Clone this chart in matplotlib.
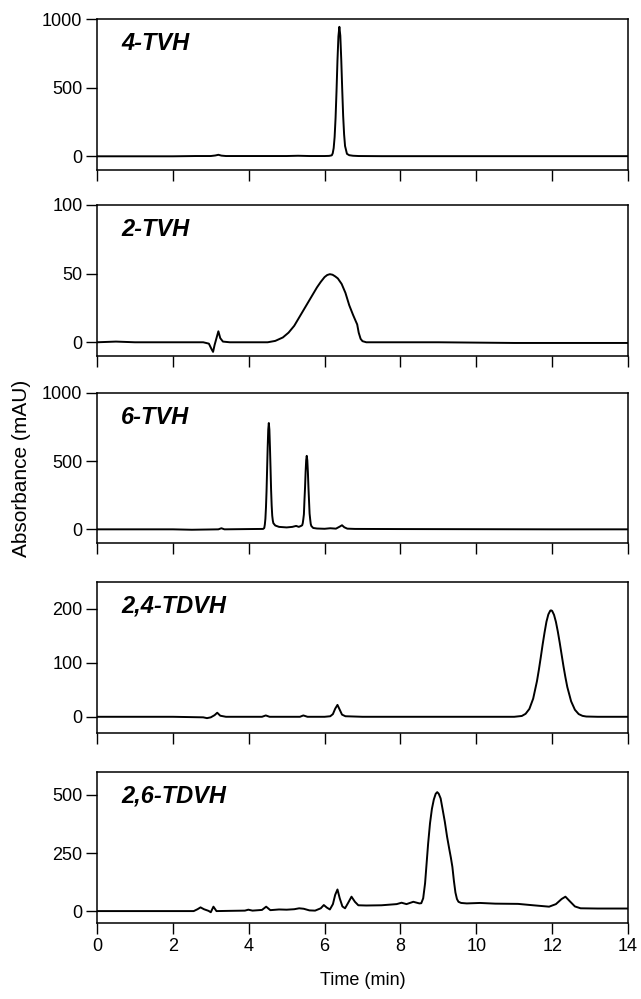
import matplotlib
matplotlib.use("Agg")
import matplotlib.pyplot as plt

plt.rcParams['font.family'] = ['Liberation Sans', 'DejaVu Sans']

# ---------------- data ----------------
names = ["4-TVH", "2-TVH", "6-TVH", "2,4-TDVH", "2,6-TDVH"]

t1 = [0, 1.0, 2.0, 2.6, 3.0, 3.12, 3.2, 3.28, 3.4, 4.0, 5.0, 5.3, 5.6, 6.0, 6.12,
      6.19, 6.215, 6.24, 6.265, 6.29, 6.315, 6.34, 6.365, 6.39, 6.415, 6.44,
      6.465, 6.49, 6.515, 6.54, 6.59, 6.65, 6.75, 6.9, 7.5,
      10.0, 12.0, 14.0]
v1 = [0, 0, 0, 2, 2, 6, 11, 5, 2, 2, 2, 4, 2, 2, 3,
      7, 22, 60, 141, 280, 476, 700, 875, 945, 880, 705,
      490, 295, 160, 75, 18, 8, 4, 2, 1,
      1, 1, 1]

t2 = [0, 0.5, 1.0, 2.0, 2.8, 2.95, 3.02, 3.06, 3.1, 3.15, 3.2, 3.25, 3.32, 3.5,
      4.0, 4.5, 4.7, 4.9, 5.05, 5.2, 5.35, 5.5, 5.65, 5.8, 5.9, 6.0, 6.07,
      6.14, 6.21, 6.28, 6.35, 6.45, 6.55, 6.65, 6.75, 6.82, 6.86, 6.9, 6.95,
      7.0, 7.1, 7.5, 9.0, 11.0, 14.0]
v2 = [0, 0.5, 0, 0, 0, -1, -5, -7, -2, 3, 8, 3, 0.5, 0,
      0, 0, 1, 3.5, 7, 12, 19, 26, 33, 40, 44, 47.5, 49,
      49.6, 49.2, 48, 46.5, 42.5, 36, 27, 20, 15.5, 13, 7, 2.5,
      0.8, 0, 0, 0, -0.5, -0.5]

t3 = [0, 1, 2, 2.5, 3.2, 3.28, 3.36, 4.0, 4.38, 4.41, 4.425, 4.44, 4.455,
      4.47, 4.485, 4.50, 4.515, 4.53, 4.545, 4.56, 4.575, 4.59, 4.605, 4.62,
      4.635, 4.65, 4.7, 4.8, 5.0, 5.15, 5.25, 5.32, 5.38, 5.41, 5.425, 5.44,
      5.455, 5.47, 5.485, 5.50, 5.515, 5.53, 5.545, 5.56, 5.575, 5.59, 5.605,
      5.62, 5.635, 5.65, 5.7, 5.8, 6.0, 6.15, 6.3, 6.4, 6.46, 6.52, 6.6, 6.8,
      8, 10, 12, 14]
v3 = [0, 0, 0, -3, 0, 8, 0, 2, 3, 10, 35, 78, 160,
      280, 440, 600, 730, 778, 730, 600, 450, 290, 175, 100,
      65, 45, 28, 18, 14, 18, 25, 18, 25, 30, 45, 75,
      110, 215, 305, 420, 505, 538, 505, 420, 305, 210, 115,
      75, 40, 25, 10, 6, 4, 8, 5, 20, 30, 15, 5, 3,
      2, 1, 0, 0]

t4 = [0, 1, 2, 2.8, 2.9, 3.0, 3.1, 3.17, 3.25, 3.4, 4.0, 4.35, 4.45, 4.55, 5.0,
      5.35, 5.44, 5.55, 6.0, 6.15, 6.22, 6.28, 6.34, 6.4, 6.46, 6.55, 7.0, 9,
      11.0, 11.2, 11.3, 11.4, 11.5, 11.6, 11.65, 11.7, 11.75, 11.8, 11.85,
      11.9, 11.95, 11.97, 12.0, 12.05, 12.1, 12.15, 12.2, 12.25, 12.3, 12.35,
      12.4, 12.5, 12.6, 12.7, 12.8, 12.9, 13.2, 14]
v4 = [0, 0, 0, -1, -2.5, -1, 3, 7.5, 2, 0, 0, 0, 2.5, 0, 0,
      0, 2.5, 0, 0, 1, 5, 15, 22, 13, 4, 1, 0, 0,
      0, 1.5, 5.5, 14.6, 33.6, 66, 87, 110, 134, 156, 176,
      189.5, 196.4, 197, 196, 188.6, 175.5, 157.6, 137, 115, 93, 73,
      55, 28.7, 13, 5, 1.7, 0.5, 0, 0]

t5 = [0, 1, 2, 2.55, 2.65, 2.73, 2.82, 2.94, 3.0, 3.07, 3.15, 3.5, 3.9, 3.99,
      4.1, 4.35, 4.46, 4.57, 4.8, 5.0, 5.2, 5.33, 5.45, 5.6, 5.75, 5.9, 5.98,
      6.06, 6.14, 6.22, 6.28, 6.34, 6.4, 6.47, 6.54, 6.62, 6.71, 6.8, 6.89,
      7.1, 7.5, 7.9, 8.03, 8.16, 8.34, 8.5, 8.55, 8.6, 8.65, 8.69, 8.73, 8.78,
      8.83, 8.88, 8.93, 8.97, 9.01, 9.06, 9.11, 9.17, 9.23, 9.29, 9.33, 9.37,
      9.41, 9.45, 9.49, 9.53, 9.6, 9.75, 10.1, 10.5, 11.1, 11.5, 11.92, 12.1,
      12.25, 12.35, 12.45, 12.6, 12.75, 13.2, 14]
v5 = [0, 0, 0, 0, 8, 16, 8, 1, -5, 19, 0, 1, 2, 6,
      2, 5, 19, 4, 7, 6, 8, 12, 10, 3, 2, 12, 26,
      15, 7, 30, 70, 93, 55, 20, 12, 35, 62, 40, 25,
      24, 25, 30, 36, 30, 40, 33, 34, 55, 120, 205, 290, 378,
      440, 480, 505, 512, 505, 485, 440, 385, 320, 265, 230, 190,
      130, 80, 52, 40, 35, 33, 35, 32, 31, 25, 19, 30,
      52, 62, 45, 20, 12, 11, 11]

times = [t1, t2, t3, t4, t5]
values = [v1, v2, v3, v4, v5]
ylims = [(-100, 1000), (-10, 100), (-100, 1000), (-30, 250), (-50, 600)]
yticks = [[0, 500, 1000], [0, 50, 100], [0, 500, 1000], [0, 100, 200], [0, 250, 500]]
xticks = [0, 2, 4, 6, 8, 10, 12, 14]

# ---------------- layout ----------------
W, H = 641, 999
fig = plt.figure(figsize=(W / 100, H / 100), dpi=100)
left_px, right_px = 97, 628
panels_px = [(19.3, 170), (205, 356), (392.7, 543), (581.7, 733), (771.7, 922.7)]

axes = []
for i, (top, bot) in enumerate(panels_px):
    ax = fig.add_axes([left_px / W, 1 - bot / H, (right_px - left_px) / W, (bot - top) / H])
    ax.plot(times[i], values[i], color='black', lw=1.4, solid_joinstyle='round')
    ax.set_xlim(0, 14)
    ax.set_ylim(*ylims[i])
    ax.set_yticks(yticks[i])
    ax.set_xticks(xticks)
    for s in ax.spines.values():
        s.set_linewidth(1.1)
        s.set_color('black')
    ax.tick_params(axis='both', direction='out', length=8, width=1.0,
                   labelsize=13, colors='black')
    ax.tick_params(axis='y', pad=2.5)
    ax.tick_params(axis='x', pad=3)
    if i < 4:
        ax.tick_params(axis='x', labelbottom=False)
    ax.text(0.045, 0.795, names[i], transform=ax.transAxes, fontsize=17,
            fontweight='bold', fontstyle='italic', ha='left', va='baseline')
    axes.append(ax)

axes[-1].set_xlabel("Time (min)", fontsize=13, labelpad=12)
fig.text(22 / W, 1 - 468 / H, "Absorbance (mAU)", rotation=90, fontsize=15,
         ha='center', va='center')

fig.savefig("out.png", dpi=100)
